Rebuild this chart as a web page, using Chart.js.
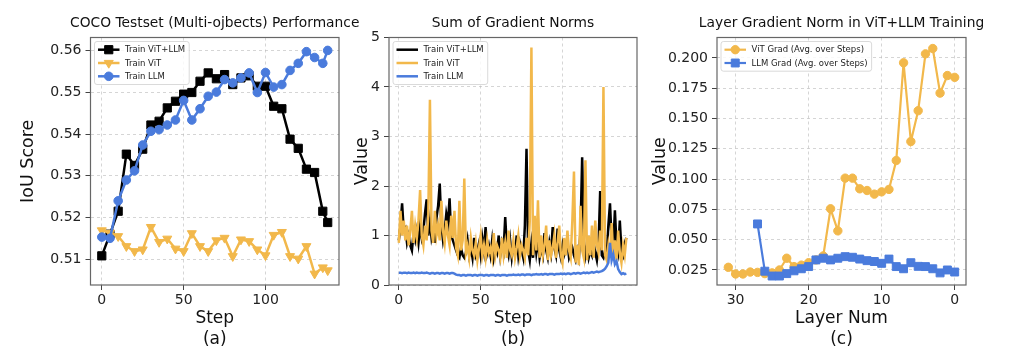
<!DOCTYPE html>
<html><head><meta charset="utf-8">
<script src="https://cdn.jsdelivr.net/npm/chart.js@4"></script>
<style>
html,body{margin:0;padding:0;background:#fff;width:1024px;height:357px;overflow:hidden}
.p{position:absolute;top:0;height:357px}
canvas{display:block}
</style></head><body>
<div class="p" style="left:0;width:390px"><canvas id="ca" width="390" height="357"></canvas></div>
<div class="p" style="left:345px;width:300px"><canvas id="cb" width="300" height="357"></canvas></div>
<div class="p" style="left:645px;width:379px"><canvas id="cc" width="379" height="357"></canvas></div>
<script>
// ---------- Panel (a): COCO Testset performance ----------
const stepsA = [0,5,10,15,20,25,30,35,40,45,50,55,60,65,70,75,80,85,90,95,100,105,110,115,120,125,130,135,138];
const iouVitLlm = [0.5108,0.5160,0.5215,0.5352,0.5325,0.5364,0.5422,0.5431,0.5463,0.5479,0.5496,0.5500,0.5527,0.5547,0.5533,0.5543,0.5519,0.5535,0.5540,0.5515,0.5515,0.5467,0.5461,0.5388,0.5366,0.5316,0.5308,0.5215,0.5188];
const iouVit = [0.5169,0.5163,0.5155,0.5131,0.5119,0.5123,0.5177,0.5141,0.5149,0.5125,0.5119,0.5162,0.5131,0.5119,0.5145,0.5151,0.5107,0.5147,0.5143,0.5123,0.5109,0.5158,0.5165,0.5107,0.5101,0.5131,0.5065,0.5080,0.5073];
const iouLlm = [0.5153,0.5150,0.5240,0.5290,0.5312,0.5374,0.5407,0.5411,0.5422,0.5434,0.5481,0.5434,0.5461,0.5491,0.5501,0.5531,0.5523,0.5535,0.5547,0.5500,0.5548,0.5513,0.5519,0.5553,0.5570,0.5598,0.5584,0.5570,0.5601];
const xTicksA = [0,50,100];
const yTicksA = [0.51,0.52,0.53,0.54,0.55,0.56];

// ---------- Panel (b): Sum of gradient norms ----------
const stepsB = Array.from({length:140},(_,i)=>i);
const normVitLlm = [0.90,1.20,1.65,1.10,1.15,0.85,1.00,0.80,0.70,1.05,
 0.90,1.10,0.85,1.20,0.95,1.10,1.45,1.73,1.00,1.30,
 0.95,1.10,0.85,1.35,1.60,2.05,1.20,0.90,1.10,1.44,
 1.25,1.75,1.00,0.90,0.80,0.70,0.60,0.55,0.75,0.60,
 0.55,0.65,0.90,0.60,0.75,0.55,0.95,0.60,0.70,0.85,
 0.60,0.95,0.70,1.17,0.65,0.80,0.60,0.90,0.55,0.75,
 0.65,1.00,0.60,0.85,0.70,1.37,0.75,0.60,0.90,0.55,
 0.80,0.65,1.00,0.60,0.85,0.70,0.55,1.20,2.75,0.70,
 0.50,0.85,0.55,1.00,0.65,0.90,0.55,0.75,0.60,1.05,
 0.70,0.55,0.85,0.65,1.17,0.75,0.60,1.14,0.70,0.55,
 0.80,0.60,0.70,0.85,0.55,0.65,0.75,0.60,0.50,0.70,
 0.55,1.10,2.58,0.90,0.60,0.80,0.55,0.70,0.60,0.85,
 0.65,0.50,0.80,1.90,0.60,0.55,0.70,0.60,1.20,1.65,
 0.90,0.75,1.51,0.80,0.65,1.30,0.70,0.60,0.85,0.95];
const normVit = [0.85,1.50,1.00,1.30,0.90,1.20,0.80,1.10,1.50,0.85,
 1.20,0.95,1.30,1.92,1.00,0.80,1.20,0.90,1.40,3.74,
 1.10,0.85,1.50,1.00,1.20,0.90,1.70,1.10,0.85,1.30,
 1.00,0.80,1.40,0.95,1.50,0.75,0.60,1.70,0.70,0.90,
 2.15,0.65,0.80,0.55,0.95,0.70,0.60,0.85,0.50,0.75,
 1.00,0.60,0.80,0.55,0.90,0.65,0.75,0.55,1.05,0.60,
 0.80,0.70,0.55,0.95,0.60,0.85,0.55,1.10,0.70,0.60,
 0.90,0.55,0.75,1.00,0.60,0.80,0.70,0.55,0.95,0.60,
 1.30,4.80,0.60,1.40,0.70,1.71,0.55,1.00,0.60,0.80,
 1.20,0.50,0.90,0.60,0.75,1.00,0.55,0.85,1.20,0.60,
 0.45,0.95,0.60,1.10,0.70,0.55,1.30,2.29,0.45,0.80,
 0.40,1.60,0.70,0.55,2.52,0.50,1.00,0.60,1.20,0.55,
 1.30,0.80,0.65,1.10,0.70,4.00,0.60,0.50,0.80,0.55,
 1.25,0.60,0.90,0.50,1.10,0.65,0.45,0.80,0.60,0.95];
const normLlm = [0.25,0.25,0.24,0.25,0.25,0.24,0.25,0.24,0.24,0.25,
 0.24,0.25,0.24,0.24,0.25,0.24,0.24,0.25,0.24,0.23,
 0.24,0.24,0.23,0.24,0.24,0.23,0.24,0.24,0.23,0.24,
 0.24,0.23,0.24,0.24,0.23,
 0.21,0.20,0.20,0.19,0.20,0.20,0.19,0.20,0.20,0.20,
 0.19,0.20,0.20,0.19,0.20,0.20,0.20,0.19,0.20,0.20,
 0.19,0.20,0.20,0.20,0.19,0.20,0.20,0.19,0.20,0.20,
 0.20,0.19,0.20,0.20,0.20,0.21,0.20,0.20,0.21,0.20,
 0.21,0.21,0.20,0.21,0.21,0.21,0.20,0.21,0.21,0.22,
 0.21,0.21,0.22,0.21,0.22,0.22,0.21,0.22,0.22,0.22,
 0.21,0.22,0.22,0.22,0.23,
 0.22,0.23,0.22,0.23,0.23,0.22,0.23,0.24,0.23,0.24,
 0.24,0.23,0.24,0.25,0.24,0.25,0.24,0.25,0.26,0.25,
 0.26,0.27,0.26,0.27,0.28,0.30,
 0.33,0.38,0.45,0.85,0.50,0.62,0.42,0.48,0.32,0.26,0.22,0.24,0.22,0.23];
const xTicksB = [0,50,100];
const yTicksB = [0,1,2,3,4,5];

// ---------- Panel (c): Layer gradient norm ----------
const layersVit = [31,30,29,28,27,26,25,24,23,22,21,20,19,18,17,16,15,14,13,12,11,10,9,8,7,6,5,4,3,2,1,0];
const gradVit = [0.0272,0.0217,0.0217,0.0233,0.0230,0.0220,0.0226,0.0250,0.0347,0.0278,0.0290,0.0310,0.0333,0.0366,0.0755,0.0573,0.1008,0.1008,0.0920,0.0906,0.0876,0.0895,0.0915,0.1154,0.1960,0.1310,0.1565,0.2034,0.2078,0.1710,0.1855,0.1840];
const layersLlm = [27,26,25,24,23,22,21,20,19,18,17,16,15,14,13,12,11,10,9,8,7,6,5,4,3,2,1,0];
const gradLlm = [0.0630,0.0240,0.0200,0.0200,0.0220,0.0243,0.0260,0.0278,0.0333,0.0347,0.0333,0.0347,0.0360,0.0355,0.0340,0.0327,0.0320,0.0305,0.0340,0.0278,0.0260,0.0310,0.0280,0.0278,0.0260,0.0226,0.0250,0.0233];
const xTicksC = [30,20,10,0];
const yTicksC = [0.025,0.050,0.075,0.100,0.125,0.150,0.175,0.200];

const YELLOW = '#F2B84B', BLUE = '#4A7BDC', BLACK = '#000000';
Chart.defaults.font.family = "'DejaVu Sans', sans-serif";
Chart.defaults.color = '#222';

const pts = (xs, ys) => xs.map((x,i)=>({x:x, y:ys[i]}));

const gridOpts = {color:'rgba(185,185,185,0.75)', lineWidth:0.8, drawTicks:true, tickLength:5, tickColor:'#444', tickWidth:1, tickBorderDash:[]};
const borderOpts = {display:false, dash:[3,3]};

function xScale(o){ return {
  type:'linear', min:o.min, max:o.max, reverse:!!o.reverse,
  afterBuildTicks: s => { s.ticks = o.ticks.map(v=>({value:v})); },
  afterFit: s => { s.height = 72; },
  ticks:{font:{size:14}, color:'#222', padding:2, maxRotation:0, autoSkip:false, callback:v=>String(v)},
  grid: gridOpts, border: borderOpts,
  title:{display:true, text:o.title, font:{size:17, lineHeight:1.25}, color:'#111', padding:{top:0,bottom:7}}
};}
function yScale(o){ return {
  type:'linear', min:o.min, max:o.max,
  afterBuildTicks: s => { s.ticks = o.ticks.map(v=>({value:v})); },
  afterFit: s => { s.width = o.width; },
  ticks:{font:{size:14}, color:'#222', padding:4, autoSkip:false, callback:v=>Number(v).toFixed(o.dec)},
  grid: gridOpts, border: borderOpts,
  title:{display:true, text:o.title, font:{size:17.5, lineHeight:1.2}, color:'#111', padding:{top:o.tpad,bottom:0}}
};}

const framePlugin = {id:'frame', afterDatasetsDraw(chart){
  const c = chart.ctx, a = chart.chartArea;
  c.save(); c.setLineDash([]); c.strokeStyle='#666'; c.lineWidth=1.2;
  c.strokeRect(a.left, a.top, a.right-a.left, a.bottom-a.top); c.restore();
}};
const titlePlugin = {id:'axTitle', afterDraw(chart, args, opts){
  const c = chart.ctx, a = chart.chartArea;
  c.save(); c.font = "13.8px 'DejaVu Sans'"; c.fillStyle='#111'; c.textAlign='center'; c.textBaseline='alphabetic';
  c.fillText(opts.text, (a.left+a.right)/2, a.top-11); c.restore();
}};
const legendPlugin = {id:'mplLegend', afterDraw(chart){
  const c = chart.ctx, a = chart.chartArea, ds = chart.data.datasets;
  c.save(); c.font = "8.5px 'DejaVu Sans'";
  const tw = Math.max(...ds.map(d=>c.measureText(d.label).width));
  const bx = a.left+4, by = a.top+4, rowH = 13.3, padY = 8.2, hl = 21.5;
  const bw = 3.5+hl+5.5+tw+4, bh = padY*2 + rowH*(ds.length-1);
  const r = 2.5;
  c.beginPath();
  c.moveTo(bx+r,by); c.lineTo(bx+bw-r,by); c.arcTo(bx+bw,by,bx+bw,by+r,r);
  c.lineTo(bx+bw,by+bh-r); c.arcTo(bx+bw,by+bh,bx+bw-r,by+bh,r);
  c.lineTo(bx+r,by+bh); c.arcTo(bx,by+bh,bx,by+bh-r,r);
  c.lineTo(bx,by+r); c.arcTo(bx,by,bx+r,by,r); c.closePath();
  c.fillStyle='rgba(255,255,255,0.85)'; c.fill();
  c.strokeStyle='#d0d0d0'; c.lineWidth=0.8; c.stroke();
  ds.forEach((d,i)=>{
    const cy = by+padY+i*rowH, lx = bx+3.5;
    c.setLineDash([]); c.strokeStyle=d.borderColor; c.lineWidth=d.borderWidth;
    c.beginPath(); c.moveTo(lx,cy); c.lineTo(lx+hl,cy); c.stroke();
    if (d.pointRadius>0 && Chart.helpers && Chart.helpers.drawPoint){
      c.fillStyle=d.backgroundColor; c.strokeStyle=d.borderColor; c.lineWidth=d.pointBorderWidth;
      Chart.helpers.drawPoint(c,{pointStyle:d.pointStyle, rotation:d.pointRotation||0, radius:d.pointRadius, borderWidth:d.pointBorderWidth}, lx+hl/2, cy);
    }
    c.fillStyle='#222'; c.textAlign='left'; c.textBaseline='middle';
    c.fillText(d.label, lx+hl+5.5, cy+0.5);
  });
  c.restore();
}};

function lineDs(label, data, color, style, radius, width, order, rot){
  return {label, data, borderColor:color, backgroundColor:color, borderWidth:width,
    pointStyle:style||'circle', pointRadius:radius, pointHoverRadius:radius, pointBorderWidth:radius>0?1:0,
    pointRotation:rot||0, tension:0, order, fill:false};
}

function make(id, datasets, xs, ys, padRight, title){
  return new Chart(document.getElementById(id), {
    type:'line',
    data:{datasets},
    options:{responsive:false, animation:false, events:[],
      layout:{padding:{top:37.5, right:padRight, left:0, bottom:0}},
      scales:{x:xs, y:ys},
      plugins:{legend:{display:false}, tooltip:{enabled:false}, axTitle:{text:title}}
    },
    plugins:[framePlugin, legendPlugin, titlePlugin]
  });
}

make('ca', [
  lineDs('Train ViT+LLM', pts(stepsA, iouVitLlm), BLACK, 'rect', 5.8, 2.5, 2),
  lineDs('Train ViT', pts(stepsA, iouVit), YELLOW, 'triangle', 5.2, 2.5, 1, 180),
  lineDs('Train LLM', pts(stepsA, iouLlm), BLUE, 'circle', 4.3, 2.5, 0)
], xScale({min:-6.9, max:144.9, ticks:xTicksA, title:['Step','(a)']}),
   yScale({min:0.5038, max:0.5632, ticks:yTicksA, dec:2, width:90.5, tpad:17.6, title:'IoU Score'}),
   51, 'COCO Testset (Multi-ojbects) Performance');

make('cb', [
  lineDs('Train ViT+LLM', pts(stepsB, normVitLlm), BLACK, 'circle', 0, 2.5, 2),
  lineDs('Train ViT', pts(stepsB, normVit), YELLOW, 'circle', 0, 2.5, 1),
  lineDs('Train LLM', pts(stepsB, normLlm), BLUE, 'circle', 0, 2.5, 0)
], xScale({min:-6, max:145.5, ticks:xTicksB, title:['Step','(b)']}),
   yScale({min:0, max:5, ticks:yTicksB, dec:0, width:44, tpad:6.6, title:'Value'}),
   8, 'Sum of Gradient Norms');

make('cc', [
  lineDs('ViT Grad (Avg. over Steps)', pts(layersVit, gradVit), YELLOW, 'circle', 4.2, 2.2, 1),
  lineDs('LLM Grad (Avg. over Steps)', pts(layersLlm, gradLlm), BLUE, 'rect', 5.6, 2.2, 0)
], xScale({min:-1.55, max:32.55, reverse:true, ticks:xTicksC, title:['Layer Num','(c)']}),
   yScale({min:0.0126, max:0.2169, ticks:yTicksC, dec:3, width:72, tpad:4.6, title:'Value'}),
   58, 'Layer Gradient Norm in ViT+LLM Training');
</script>
</body></html>
